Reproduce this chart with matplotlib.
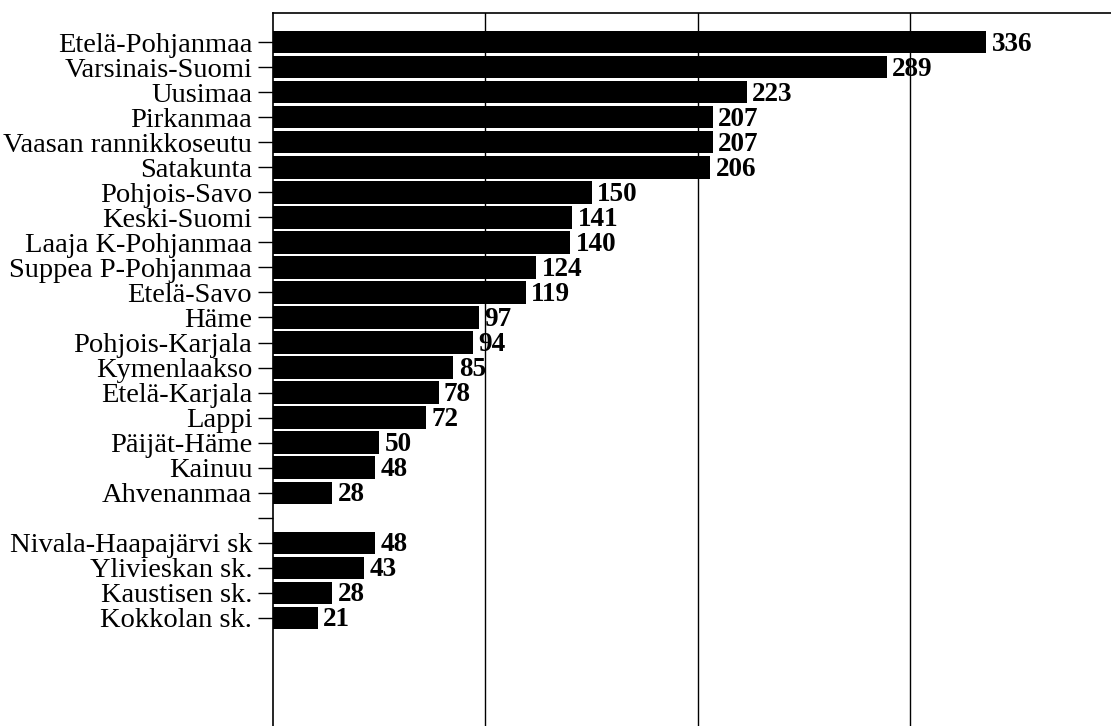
import matplotlib.pyplot as plt
import numpy as np

regions = ["Etelä-Pohjanmaa", "Varsinais-Suomi", "Uusimaa", "Pirkanmaa",
           "Vaasan rannikkoseutu", "Satakunta", "Pohjois-Savo", "Keski-Suomi",
           "Laaja K-Pohjanmaa", "Suppea P-Pohjanmaa", "Etelä-Savo", "Häme",
           "Pohjois-Karjala", "Kymenlaakso", "Etelä-Karjala", "Lappi",
           "Päijät-Häme", "Kainuu", "Ahvenanmaa"]
region_values = [336, 289, 223, 207, 207, 206, 150, 141, 140, 124, 119, 97,
                 94, 85, 78, 72, 50, 48, 28]

subregions = ["Nivala-Haapajärvi sk", "Ylivieskan sk.", "Kaustisen sk.", "Kokkolan sk."]
subregion_values = [48, 43, 28, 21]

labels = regions + [""] + subregions
values = region_values + [None] + subregion_values

plt.rcParams['font.family'] = ['Liberation Serif', 'DejaVu Serif']

fig = plt.figure(figsize=(11.11, 7.26), dpi=100)
W, H = 1111, 726
left, right = 273, 1116
top, bottom = 13, 776
ax = fig.add_axes([left / W, 1 - bottom / H, (right - left) / W, (bottom - top) / H])

ypos = np.arange(len(labels))
for y, v in zip(ypos, values):
    if v is None:
        continue
    ax.barh(y, v, height=0.9, color='black', zorder=3)
    ax.text(v + 2.5, y + 0.08, str(v), va='center', ha='left',
            fontsize=19.5, fontweight='bold', zorder=4)

ax.set_xlim(0, 397)
ax.set_ylim(29.31, -1.16)
ax.set_yticks(ypos)
ax.set_yticklabels(labels, fontsize=20.5)
ax.tick_params(axis='y', length=11, width=1, pad=4, direction='out')
ax.set_xticks([100, 200, 300])
ax.tick_params(axis='x', length=0, labelbottom=False)
ax.grid(axis='x', color='black', linewidth=1, zorder=1)
for s in ['left', 'top']:
    ax.spines[s].set_linewidth(1.2)
ax.spines['right'].set_visible(False)
ax.spines['bottom'].set_visible(False)

fig.savefig('out.png', dpi=100)
